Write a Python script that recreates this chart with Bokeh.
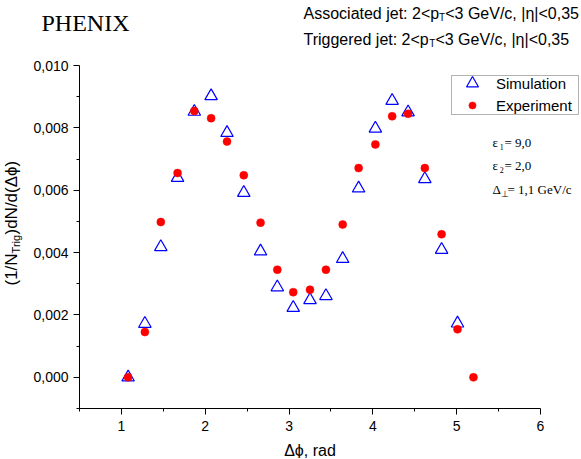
import math
from bokeh.plotting import figure
from bokeh.models import Range1d, FixedTicker, Label, Legend, LegendItem, BoxAnnotation
from bokeh.embed import file_html
from bokeh.resources import INLINE

# ---- data ----
x_sim = [1.08, 1.28, 1.47, 1.67, 1.87, 2.07, 2.26, 2.46, 2.66, 2.86, 3.05,
         3.25, 3.44, 3.64, 3.83, 4.03, 4.23, 4.42, 4.62, 4.82, 5.01]
y_sim = [0.0000, 0.00172, 0.00418, 0.00640, 0.00852, 0.00902, 0.00784, 0.00592,
         0.00404, 0.00289, 0.00223, 0.00248, 0.00261, 0.00380, 0.00606, 0.00798,
         0.00887, 0.00850, 0.00636, 0.00409, 0.00173]
x_exp = [1.08, 1.28, 1.47, 1.67, 1.87, 2.07, 2.26, 2.46, 2.66, 2.86, 3.05,
         3.25, 3.44, 3.64, 3.83, 4.03, 4.23, 4.42, 4.62, 4.82, 5.01, 5.20]
y_exp = [0.0000, 0.00145, 0.00498, 0.00655, 0.00854, 0.00831, 0.00756, 0.00648,
         0.00496, 0.00345, 0.00273, 0.00281, 0.00345, 0.00490, 0.00671, 0.00747,
         0.00837, 0.00845, 0.00671, 0.00459, 0.00154, 0.0000]

x_ticks = [1, 2, 3, 4, 5, 6]
x_minor = [0.5, 1.5, 2.5, 3.5, 4.5, 5.5]
y_ticks = [0.0, 0.002, 0.004, 0.006, 0.008, 0.010]
y_tick_labels = ["0,000", "0,002", "0,004", "0,006", "0,008", "0,010"]
y_minor = [-0.001, 0.001, 0.003, 0.005, 0.007, 0.009]
x_lo, x_hi = 0.5, 6.0
y_lo, y_hi = -0.001, 0.010

SANS = "Liberation Sans"
SERIF = "Liberation Serif"

# ---- layout: the frame covers the whole canvas, axes are pinned in place ----
W, H = 580, 458
AX_L, AX_R, AX_T, AX_B = 79, 540, 65, 408   # pixel positions of the axes box
kx = (AX_R - AX_L) / (x_hi - x_lo)
ky = (AX_B - AX_T) / (y_hi - y_lo)
xr = Range1d(x_lo - AX_L / kx, x_hi + (W - AX_R) / kx)
yr = Range1d(y_lo - (H - AX_B) / ky, y_hi + AX_T / ky)

p = figure(width=W, height=H, output_backend="svg", toolbar_location=None,
           x_range=xr, y_range=yr, min_border=0, min_border_left=0,
           min_border_right=0, min_border_top=0, min_border_bottom=0)
p.outline_line_color = None
p.grid.visible = False
p.background_fill_color = "white"
p.border_fill_color = "white"

for ax in (p.xaxis[0], p.yaxis[0]):
    ax.axis_line_color = "black"
    ax.axis_line_width = 1
    ax.major_tick_line_color = "black"
    ax.minor_tick_line_color = "black"
    ax.major_tick_in = 0
    ax.major_tick_out = 6
    ax.minor_tick_in = 0
    ax.minor_tick_out = 3
    ax.major_label_text_font = SANS
    ax.major_label_text_font_size = "14px"
    ax.major_label_text_color = "black"

p.xaxis.ticker = FixedTicker(ticks=x_ticks, minor_ticks=x_minor)
p.xaxis.major_label_standoff = 6
p.xaxis.bounds = (x_lo, x_hi)
p.xaxis.fixed_location = y_lo
p.yaxis.ticker = FixedTicker(ticks=y_ticks, minor_ticks=y_minor)
p.yaxis.major_label_overrides = {t: l for t, l in zip(y_ticks, y_tick_labels)}
p.yaxis.major_label_standoff = 5
p.yaxis.bounds = (y_lo, y_hi)
p.yaxis.fixed_location = x_lo

r_sim = p.scatter(x_sim, y_sim, marker="triangle", size=12.5, fill_color=None,
                  line_color="#0000ff", line_width=1.2)
r_exp = p.scatter(x_exp, y_exp, marker="circle", size=8, fill_color="#ff0000",
                  line_color="#ff0000", line_width=0.5)

# legend: two legends so each marker keeps its own size, plus a frame box
legA = Legend(items=[LegendItem(label="Simulation", renderers=[r_sim])],
              location=(457, H - 98), glyph_width=30, glyph_height=30,
              label_height=30, label_standoff=9, padding=0, margin=0,
              border_line_color=None, background_fill_alpha=0,
              label_text_font=SANS, label_text_font_size="15px",
              label_text_color="black")
legB = Legend(items=[LegendItem(label="Experiment", renderers=[r_exp])],
              location=(457, H - 114), glyph_width=30, glyph_height=18,
              label_height=18, label_standoff=9, padding=0, margin=0,
              border_line_color=None, background_fill_alpha=0,
              label_text_font=SANS, label_text_font_size="15px",
              label_text_color="black")
box = BoxAnnotation(left=451, right=578, bottom=H - 114, top=H - 75,
                    left_units="screen", right_units="screen",
                    top_units="screen", bottom_units="screen",
                    fill_color=None, fill_alpha=0, line_color="black",
                    line_width=1)
p.add_layout(box)
p.add_layout(legA)
p.add_layout(legB)


def lab(text, x, y, size, font=SANS, angle=0.0, align="left"):
    # x, y: pixel position from the top-left corner of the picture
    p.add_layout(Label(x=x, y=H - y, x_units="screen", y_units="screen",
                       text=text, text_font=font, text_font_size=f"{size}px",
                       text_color="black", text_align=align,
                       text_baseline="alphabetic", angle=angle))


# title and header lines
lab("PHENIX", 41, 22, 24, SERIF)
lab("Associated jet: 2<p", 303, 13, 16)
lab("T", 438.6, 17, 10)
lab("<3 GeV/c, |\u03b7|<0,35", 444.7, 13, 16)
lab("Triggered jet: 2<p", 303, 39, 16)
lab("T", 428.8, 43, 10)
lab("<3 GeV/c, |\u03b7|<0,35", 434.9, 39, 16)

# parameters
lab("\u03b5", 492, 142, 13, SERIF)
lab("1", 499.3, 146, 8, SERIF)
lab(" = 9,0", 504, 142, 13, SERIF)
lab("\u03b5", 492, 165, 13, SERIF)
lab("2", 499.3, 169, 8, SERIF)
lab(" = 2,0", 504, 165, 13, SERIF)
lab("\u0394", 492, 189, 13, SERIF)
lab("\u22a5", 500.5, 193, 9, SERIF)
lab(" = 1,1 GeV/c", 507, 189, 13, SERIF)

# axis titles
lab("\u0394\u03d5, rad", 309.5, 450, 16, align="center")
A = math.pi / 2
lab("(1/N", 11, 285, 17, SANS, A)
lab("Trig", 15, 252.9, 11, SANS, A)
lab(")dN/d(\u0394\u03d5)", 11, 234.0, 17, SANS, A)

open("out.html", "w").write(file_html(p, INLINE))
